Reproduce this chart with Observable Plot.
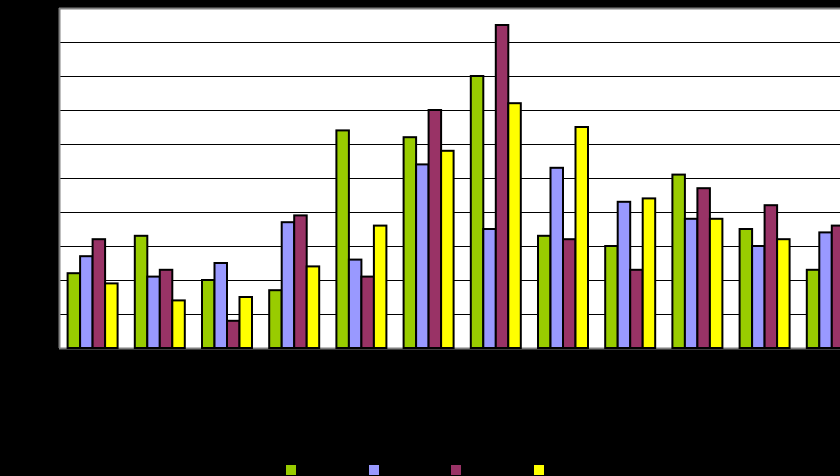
<!DOCTYPE html>
<html><head><meta charset="utf-8">
<script src="https://cdn.jsdelivr.net/npm/d3@7"></script>
<script src="https://cdn.jsdelivr.net/npm/@observablehq/plot@0.6"></script>
<style>
html,body{margin:0;padding:0;background:#000;overflow:hidden;}
#chart{width:840px;height:455px;overflow:hidden;}
#legend{position:relative;width:840px;height:21px;display:flex;padding-left:286px;box-sizing:border-box;}
.item{width:82.5px;height:21px;position:relative;}
.sw{position:absolute;left:0;top:10px;width:10px;height:10px;}
</style></head><body>
<div id="chart"></div><div id="legend"></div>
<script>
const groups = ["1","2","3","4","5","6","7","8","9","10","11","12"];
const seriesKeys = ["s1","s2","s3","s4"];
const seriesColors = ["#99CC00","#9999FF","#993366","#FFFF00"];
const s1 = [22,33,20,17,64,62,80,33,30,51,35,23];
const s2 = [27,21,25,37,26,54,35,53,43,38,30,34];
const s3 = [32,23,8,39,21,70,95,32,23,47,42,36];
const s4 = [19,14,15,24,36,58,72,65,44,38,32,28];
const gridTicks = [10,20,30,40,50,60,70,80,90];

const allSeries = [s1,s2,s3,s4];
const pad = 0.128, bw = (1 - 2*pad)/4;
const data = [];
groups.forEach((g, gi) => {
  allSeries.forEach((arr, si) => {
    const x1 = gi - 0.5 + pad + si*bw;
    data.push({group: g, series: seriesKeys[si], value: arr[gi], x1, x2: x1 + bw});
  });
});

const chart = Plot.plot({
  width: 866,
  height: 455,
  marginLeft: 59,
  marginRight: 0.6,
  marginTop: 8,
  marginBottom: 107,
  style: {background: "#000", maxWidth: "none"},
  x: {type: "linear", domain: [-0.5, groups.length - 0.5], axis: null},
  y: {domain: [0, 100], axis: null},
  color: {domain: seriesKeys, range: seriesColors},
  marks: [
    Plot.frame({fill: "white", stroke: null}),
    Plot.gridY(gridTicks, {stroke: "#000", strokeOpacity: 1, strokeWidth: 1}),
    Plot.ruleY([100], {stroke: "#808080", strokeWidth: 2}),
    Plot.ruleY([0], {stroke: "#808080", strokeWidth: 2}),
    Plot.ruleX([-0.5], {stroke: "#808080", strokeWidth: 2}),
    Plot.rectY(data, {x1: "x1", x2: "x2", y: "value", fill: "series", stroke: "#000", strokeWidth: 2})
  ]
});
chart.style.maxWidth = "none";
document.getElementById("chart").appendChild(chart);

const legend = document.getElementById("legend");
seriesKeys.forEach((k, i) => {
  const item = document.createElement("div");
  item.className = "item";
  const sw = document.createElement("div");
  sw.className = "sw";
  sw.style.background = seriesColors[i];
  item.appendChild(sw);
  legend.appendChild(item);
});
</script>
</body></html>
